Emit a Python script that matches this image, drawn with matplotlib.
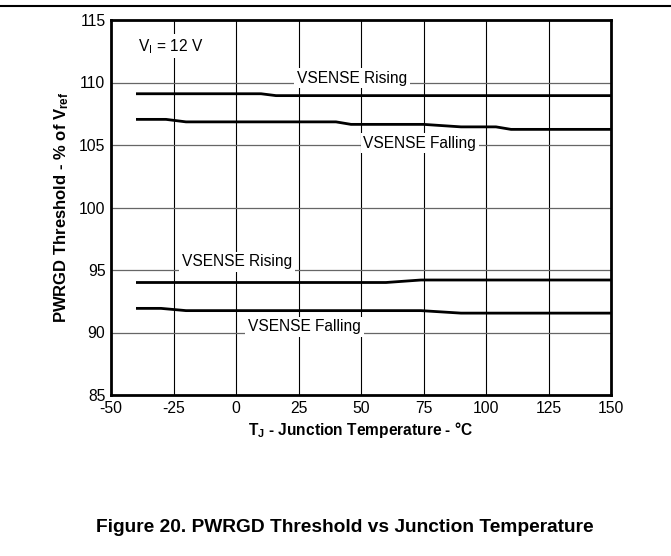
import matplotlib
matplotlib.use("Agg")
import matplotlib.pyplot as plt

plt.rcParams['font.family'] = ['Liberation Sans', 'DejaVu Sans']
plt.rcParams['mathtext.fontset'] = 'custom'
plt.rcParams['mathtext.rm'] = 'Liberation Sans'
plt.rcParams['mathtext.bf'] = 'Liberation Sans:bold'
plt.rcParams['mathtext.it'] = 'Liberation Sans'

# Data
hi_rise_t = [-40, 10, 16, 150]
hi_rise_v = [109.1, 109.1, 108.95, 108.95]

hi_fall_t = [-40, -28, -20, 40, 46, 75, 90, 104, 110, 150]
hi_fall_v = [107.05, 107.05, 106.85, 106.85, 106.65, 106.65, 106.45, 106.45, 106.25, 106.25]

lo_rise_t = [-40, 60, 74, 150]
lo_rise_v = [94.0, 94.0, 94.2, 94.2]

lo_fall_t = [-40, -30, -20, 74, 90, 150]
lo_fall_v = [91.93, 91.93, 91.75, 91.75, 91.55, 91.55]

xticks = [-50, -25, 0, 25, 50, 75, 100, 125, 150]
yticks = [85, 90, 95, 100, 105, 110, 115]

fig = plt.figure(figsize=(6.71, 5.56), dpi=100)
ax = fig.add_axes([111/671, 1-395/556, 500/671, 375/556])

ax.set_xlim(-50, 150)
ax.set_ylim(85, 115)
ax.set_xticks(xticks)
ax.set_yticks(yticks)
ax.set_xticklabels([str(v) for v in xticks])
ax.set_yticklabels([str(v) for v in yticks])
ax.tick_params(length=0, labelsize=11.3, pad=4)

for x in xticks[1:-1]:
    ax.axvline(x, color='black', lw=0.8, zorder=1)
for y in yticks[1:-1]:
    ax.axhline(y, color='#666666', lw=0.9, zorder=1)

for t, v in [(hi_rise_t, hi_rise_v), (hi_fall_t, hi_fall_v),
             (lo_rise_t, lo_rise_v), (lo_fall_t, lo_fall_v)]:
    ax.plot(t, v, color='black', lw=2.0, zorder=3, solid_capstyle='butt')

for s in ax.spines.values():
    s.set_linewidth(2.0)

fs = 11.2
bb = dict(facecolor='white', edgecolor='none', pad=2)
ax.text(46.5, 110.35, 'VSENSE Rising', ha='center', va='center', fontsize=fs, bbox=bb, zorder=4)
ax.text(73.5, 105.15, 'VSENSE Falling', ha='center', va='center', fontsize=fs, bbox=bb, zorder=4)
ax.text(0.3, 95.65, 'VSENSE Rising', ha='center', va='center', fontsize=fs, bbox=bb, zorder=4)
ax.text(27.4, 90.45, 'VSENSE Falling', ha='center', va='center', fontsize=fs, bbox=bb, zorder=4)
ax.text(-39, 112.9, r'V$_\mathregular{I}$ = 12 V', ha='left', va='center', fontsize=fs, bbox=bb, zorder=4)

ax.set_xlabel(r'T$_\mathbf{J}$ - Junction Temperature - °C', fontsize=11.2, fontweight='bold', labelpad=3)
ax.set_ylabel(r'PWRGD Threshold - % of V$_\mathbf{ref}$', fontsize=12, fontweight='bold', labelpad=6)

fig.add_artist(plt.Line2D([0, 1], [1-6/556, 1-6/556], color='black', lw=1.5, transform=fig.transFigure))
fig.text(345/671, 1-527/556, 'Figure 20. PWRGD Threshold vs Junction Temperature',
         ha='center', va='center', fontsize=13.8, fontweight='bold')

fig.savefig('out.png', dpi=100)
